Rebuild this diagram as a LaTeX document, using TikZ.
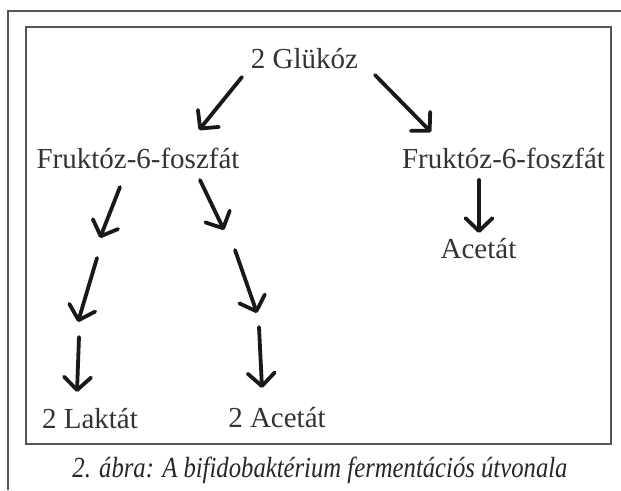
\documentclass[tikz,border=0pt]{standalone}
\usepackage{fontspec}
\setmainfont{Liberation Serif}
\usetikzlibrary{arrows.meta}
\definecolor{txt}{HTML}{333333}
\definecolor{frame}{HTML}{555555}
\tikzset{
  lbl/.style={anchor=base, inner sep=0pt, text=txt, font=\fontsize{29}{32}\selectfont},
  captxt/.style={anchor=base, inner sep=0pt, text=black!85},
  arr/.style={line width=3.8pt, draw=black!90, line cap=round,
    -{Straight Barb[length=13pt,width=27pt,line cap=round,line join=round]}},
}
\begin{document}
\begin{tikzpicture}[x=1pt,y=-1pt]
\useasboundingbox (0,0) rectangle (621,490);
% outer frame (top and left)
\draw[frame, line width=1.4pt] (8,490) -- (8,11) -- (621,11);
% inner box
\draw[frame, line width=1.2pt] (26,27) rectangle (611,444);
% labels
\node[lbl] (glu) at (304.5,68) {2 Glükóz};
\node[lbl] (fl) at (138,168) {Fruktóz-6-foszfát};
\node[lbl] (fr) at (503.5,168) {Fruktóz-6-foszfát};
\node[lbl] (ac) at (478.5,258) {Acetát};
\node[lbl] (lak) at (90,428) {2 Laktát};
\node[lbl] (ac2) at (277,427) {2 Acetát};
\node[captxt] (caption) at (320,477) {\scalebox{1}[1.18]{\resizebox{495pt}{!}{\itshape 2. ábra: A bifidobaktérium fermentációs útvonala}}};
% arrow end points
\coordinate (a1s) at (242,77);  \coordinate (a1e) at (199,130);
\coordinate (a2s) at (375,75);  \coordinate (a2e) at (431,132);
\coordinate (a3s) at (120,187); \coordinate (a3e) at (100,238);
\coordinate (a4s) at (200,180); \coordinate (a4e) at (224,230);
\coordinate (a5s) at (479,180); \coordinate (a5e) at (479,233);
\coordinate (a6s) at (97,258);  \coordinate (a6e) at (78,322);
\coordinate (a7s) at (79,337);  \coordinate (a7e) at (77,392);
\coordinate (a8s) at (235,250); \coordinate (a8e) at (257,313);
\coordinate (a9s) at (259,327); \coordinate (a9e) at (262,388);
\foreach \k in {1,...,9} {\draw[arr] (a\k s) -- (a\k e);}
\end{tikzpicture}
\end{document}
